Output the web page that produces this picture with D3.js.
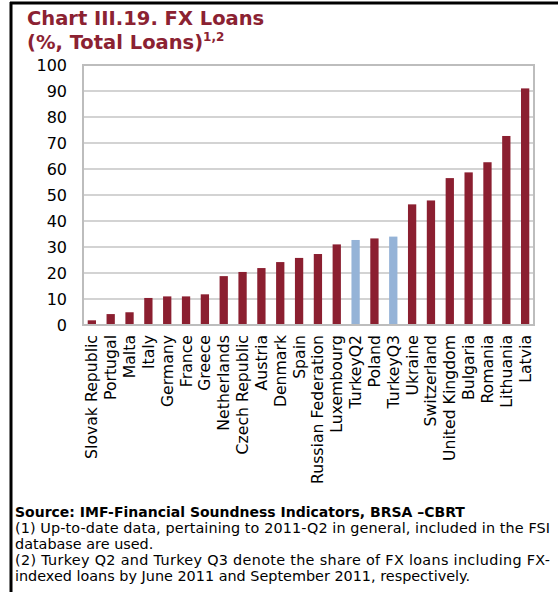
<!DOCTYPE html>
<html><head><meta charset="utf-8">
<script src="https://cdn.jsdelivr.net/npm/d3@7"></script>
<style>
html,body{margin:0;padding:0;background:#fff;}
svg{display:block;}
</style></head>
<body>
<script>
const categories = ["Slovak Republic","Portugal","Malta","Italy","Germany","France","Greece","Netherlands","Czech Republic","Austria","Denmark","Spain","Russian Federation","Luxembourg","TurkeyQ2","Poland","TurkeyQ3","Ukraine","Switzerland","United Kingdom","Bulgaria","Romania","Lithuania","Latvia"];
const values = [1.8,4.2,4.9,10.4,11.0,11.0,11.8,18.8,20.4,21.9,24.2,25.8,27.3,31.0,32.7,33.3,34.0,46.4,47.9,56.5,58.7,62.6,72.7,91.0];
const highlighted = ["TurkeyQ2","TurkeyQ3"];
const yTicks = [0,10,20,30,40,50,60,70,80,90,100];
const titleLines = ["Chart III.19. FX Loans","(%, Total Loans)"];
const titleSup = "1,2";
const sourceLine = "Source: IMF-Financial Soundness Indicators, BRSA –CBRT";
const noteLines = ["(1) Up-to-date data, pertaining to 2011-Q2 in general, included in the FSI","database are used.","(2) Turkey Q2 and Turkey Q3 denote the share of FX loans including FX-","indexed loans by June 2011 and September 2011, respectively."];
const justifiedNotes = [true,false,true,false];

const W = 558, H = 592;
const FONT = "'DejaVu Sans', Verdana, sans-serif";
const RED = "#8B1F30", BLUE = "#95B3D7", TITLE = "#8B2232";
const svg = d3.select("body").append("svg").attr("width", W).attr("height", H);

// frame
svg.append("line").attr("x1",10).attr("x2",W).attr("y1",3).attr("y2",3).attr("stroke","#000").attr("stroke-width",3);
svg.append("line").attr("x1",11).attr("x2",11).attr("y1",2).attr("y2",H).attr("stroke","#000").attr("stroke-width",3);

// title
svg.append("text").attr("x",27).attr("y",25).attr("fill",TITLE).attr("font-family",FONT).attr("font-weight","bold").attr("font-size",19.5).text(titleLines[0]);
const t2 = svg.append("text").attr("x",27).attr("y",49).attr("fill",TITLE).attr("font-family",FONT).attr("font-weight","bold").attr("font-size",19.5);
t2.append("tspan").text(titleLines[1]);
t2.append("tspan").attr("dy",-8).attr("font-size",12).text(titleSup);

const m = {left:83, right:534, top:65, bottom:325};
const x = d3.scaleBand().domain(categories).range([m.left, m.right]).paddingInner(0.56).paddingOuter(0.25);
const y = d3.scaleLinear().domain([0,100]).range([m.bottom, m.top]);

// gridlines
svg.append("g").selectAll("line").data(yTicks.filter(d=>d>0 && d<100)).join("line")
  .attr("x1",m.left).attr("x2",m.right).attr("y1",d=>y(d)).attr("y2",d=>y(d))
  .attr("stroke","#c4c4c4").attr("stroke-width",1.5);

// bars
svg.append("g").selectAll("rect").data(categories).join("rect")
  .attr("x",d=>x(d)).attr("width",x.bandwidth())
  .attr("y",(d,i)=>y(values[i])).attr("height",(d,i)=>y(0)-y(values[i]))
  .attr("fill",d=>highlighted.includes(d)?BLUE:RED);

// plot border
svg.append("rect").attr("x",m.left).attr("y",m.top).attr("width",m.right-m.left).attr("height",m.bottom-m.top)
  .attr("fill","none").attr("stroke","#bdbdbd").attr("stroke-width",2);

// y axis
const ya = svg.append("g").attr("transform",`translate(${m.left},0)`)
  .call(d3.axisLeft(y).tickValues(yTicks).tickSize(0).tickPadding(16));
ya.select(".domain").remove();
ya.selectAll("text").attr("font-family",FONT).attr("font-size",16).attr("fill","#000");

// x axis
const xa = svg.append("g").attr("transform",`translate(0,${m.bottom})`)
  .call(d3.axisBottom(x).tickSize(0).tickPadding(0));
xa.select(".domain").remove();
xa.selectAll("text").attr("font-family",FONT).attr("font-size",15.7).attr("fill","#000")
  .attr("transform","rotate(-90)").attr("text-anchor","end").attr("dy","0.35em").attr("dx","-10").attr("x",0).attr("y",0);

// footer
svg.append("text").attr("x",15).attr("y",517).attr("font-family",FONT).attr("font-weight","bold").attr("font-size",14).attr("fill","#000").text(sourceLine);
svg.append("g").selectAll("text").data(noteLines).join("text")
  .attr("x",15).attr("y",(d,i)=>533+i*16).attr("font-family",FONT).attr("font-size",14.4).attr("fill","#000")
  .each(function(d,i){ if (justifiedNotes[i]) d3.select(this).attr("textLength",535).attr("lengthAdjust","spacing"); })
  .text(d=>d);
</script>
</body></html>
